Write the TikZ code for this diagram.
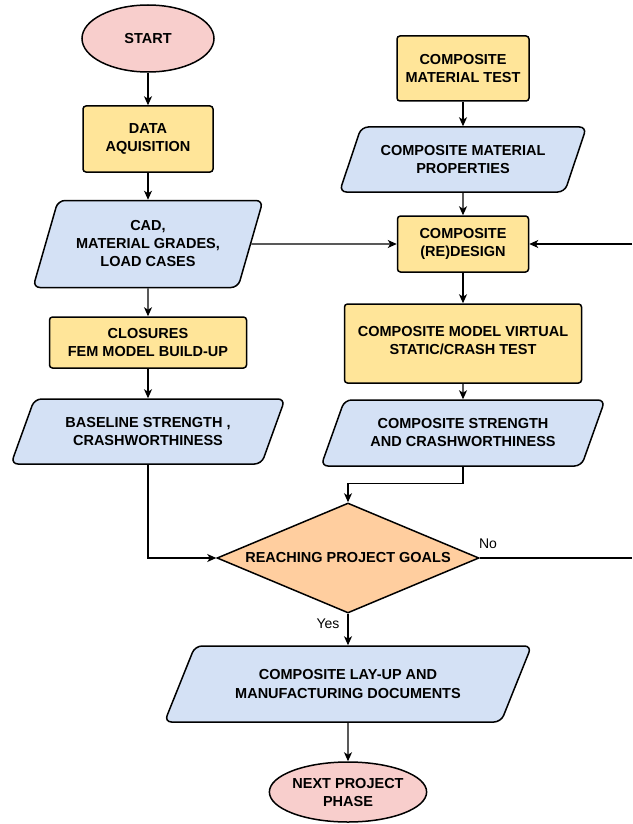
\documentclass[tikz,border=0pt]{standalone}
\usepackage{fontspec}
\setmainfont{Liberation Sans}
\usetikzlibrary{shapes.geometric,arrows.meta}
\definecolor{termpink}{HTML}{F8CECC}
\definecolor{procyellow}{HTML}{FFE599}
\definecolor{datablue}{HTML}{D4E1F5}
\definecolor{decorange}{HTML}{FFCE9F}
\begin{document}
\begin{tikzpicture}[x=1pt,y=-1pt,>={Stealth[length=9pt,width=8pt,inset=2.5pt]},
  every node/.style={font=\bfseries\fontsize{14.5}{18}\selectfont,align=center,inner sep=0pt},
  termnode/.style={ellipse,draw,line width=1.5pt,fill=termpink},
  procnode/.style={rectangle,rounded corners=3pt,draw,line width=1.5pt,fill=procyellow},
  datanode/.style 2 args={trapezium,trapezium stretches body,trapezium left angle=#1,
    trapezium right angle=#2,rounded corners=7pt,draw,line width=1.5pt,fill=datablue},
  decnode/.style={diamond,aspect=2.4,draw,line width=1.5pt,fill=decorange},
  flow/.style={->,line width=1.2pt}]
 \useasboundingbox (0,0) rectangle (632,824);
 \begin{scope}
  \node[termnode,minimum width=132pt,minimum height=67pt] (start) at (148,38.5) {START};
  \node[procnode,minimum width=130pt,minimum height=66pt] (data) at (148,139) {DATA\\AQUISITION};
  \node[datanode={61.6}{118.4},minimum width=230pt,minimum height=87pt] (cad) at (148,244)
       {CAD,\\MATERIAL GRADES,\\LOAD CASES};
  \node[procnode,minimum width=197pt,minimum height=51pt] (closures) at (148,342.5)
       {CLOSURES\\FEM MODEL BUILD-UP};
  \node[datanode={50.3}{129.7},minimum width=274pt,minimum height=65pt] (base) at (148,431.5)
       {BASELINE STRENGTH ,\\CRASHWORTHINESS};
 \end{scope}
 \begin{scope}
  \node[procnode,minimum width=132pt,minimum height=65pt] (test) at (463,68.5) {COMPOSITE\\MATERIAL TEST};
  \node[datanode={52.4}{127.6},minimum width=247pt,minimum height=65pt] (props) at (463,159.5)
       {COMPOSITE MATERIAL\\PROPERTIES};
  \node[procnode,minimum width=237pt,minimum height=79pt] (virtual) at (463,343.5) {};
  \node (virtualtext) at (463,341) {COMPOSITE MODEL VIRTUAL\\STATIC/CRASH TEST};
  \node[procnode,minimum width=131pt,minimum height=56pt] (redesign) at (463,244) {COMPOSITE\\(RE)DESIGN};
  \node[datanode={50.2}{129.8},minimum width=284pt,minimum height=66pt] (strength) at (463,433)
       {COMPOSITE STRENGTH\\AND CRASHWORTHINESS};
 \end{scope}
 \node[decnode,minimum width=262pt,minimum height=110pt] (goals) at (348,558) {REACHING PROJECT GOALS};
 \node[datanode={42.8}{137.2},minimum width=367pt,minimum height=76pt] (layup) at (348,684)
      {COMPOSITE LAY-UP AND\\MANUFACTURING  DOCUMENTS};
 \node[termnode,minimum width=145pt,minimum height=60pt] (next) at (348,792) {NEXT PROJECT\\PHASE};
 \node[font=\fontsize{14}{16}\selectfont] (yes) at (328,624) {Yes};
 \node[font=\fontsize{14}{16}\selectfont] (no) at (488,544) {No};
 \coordinate (noend) at (632,558);
 \coordinate (backin) at (632,244);
 \draw[flow] (start) -- (data);
 \draw[flow] (data) -- (cad);
 \draw[flow] (cad) -- (closures);
 \draw[flow] (closures) -- (base);
 \draw[flow] (base.south) |- (goals.west);
 \draw[flow] (test) -- (props);
 \draw[flow] (props) -- (redesign);
 \draw[flow] (cad.east) -- (redesign.west);
 \draw[flow] (redesign) -- (virtual);
 \draw[flow] (virtual) -- (strength);
 \draw[flow] (strength.south) -- ++(0,17) -| (goals.north);
 \draw[flow] (goals) -- (layup);
 \draw[flow] (layup) -- (next);
 \draw[line width=1.2pt] (goals.east) -- (noend);
 \draw[flow] (backin) -- (redesign.east);
\end{tikzpicture}
\end{document}
